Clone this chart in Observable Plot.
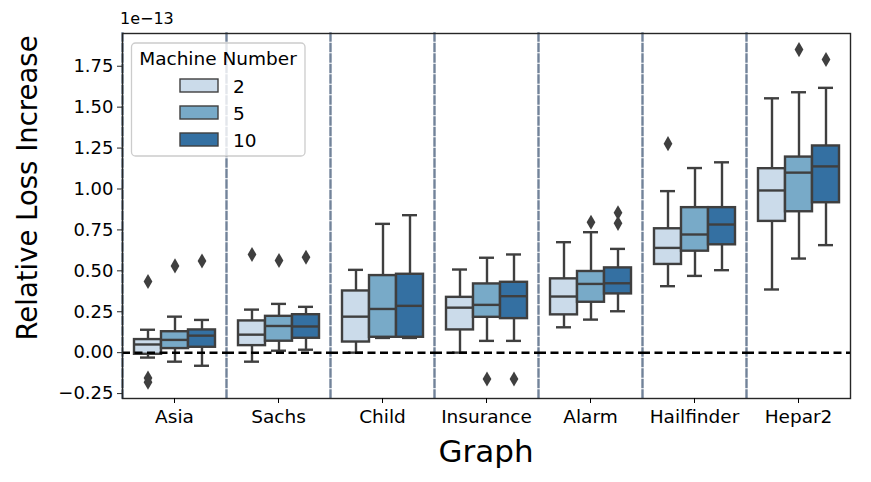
<!DOCTYPE html>
<html>
<head>
<meta charset="utf-8">
<script src="https://cdn.jsdelivr.net/npm/d3@7"></script>
<script src="https://cdn.jsdelivr.net/npm/@observablehq/plot@0.6"></script>
<style>
  html, body { margin: 0; padding: 0; background: white; }
  #chart { width: 871px; height: 482px; }
</style>
</head>
<body>
<div id="chart"></div>
<script>
// ---- data (values in units of 1e-13) ----
const graphs = ["Asia", "Sachs", "Child", "Insurance", "Alarm", "Hailfinder", "Hepar2"];
const machines = ["2", "5", "10"];
const colors = ["#cbdbea", "#78aac8", "#3470a2"];

// per graph, per machine (2, 5, 10)
const whiskerLow  = [-0.03, -0.055, -0.08,  -0.055, 0.012, 0.018,  0.0, 0.09, 0.09,   0.0, 0.072, 0.072,  0.155, 0.202, 0.253,  0.406, 0.469, 0.504,  0.386, 0.575, 0.657];
const q1          = [-0.01, 0.025, 0.033,   0.043, 0.07, 0.088,    0.065, 0.094, 0.094, 0.139, 0.216, 0.208, 0.231, 0.308, 0.359,  0.539, 0.62, 0.659,   0.802, 0.861, 0.916];
const median      = [0.05, 0.078, 0.104,    0.11, 0.163, 0.16,     0.22, 0.267, 0.286,  0.275, 0.292, 0.345, 0.343, 0.42, 0.424,   0.64, 0.722, 0.783,   0.991, 1.10, 1.138];
const q3          = [0.08, 0.128, 0.139,    0.194, 0.222, 0.232,   0.377, 0.471, 0.479, 0.338, 0.42, 0.43,   0.451, 0.496, 0.518,  0.757, 0.886, 0.886,  1.124, 1.195, 1.263];
const whiskerHigh = [0.14, 0.22, 0.20,      0.263, 0.298, 0.28,    0.506, 0.787, 0.84,  0.508, 0.58, 0.60,   0.675, 0.736, 0.634,  0.987, 1.128, 1.163,  1.554, 1.591, 1.618];

const outlierGraph   = ["Asia", "Asia", "Asia", "Asia", "Asia", "Sachs", "Sachs", "Sachs", "Insurance", "Insurance", "Alarm", "Alarm", "Alarm", "Hailfinder", "Hepar2", "Hepar2"];
const outlierMachine = ["2", "2", "2", "5", "10", "2", "5", "10", "5", "10", "5", "10", "10", "2", "5", "10"];
const outlierValue   = [0.435, -0.155, -0.18, 0.53, 0.56, 0.60, 0.563, 0.583, -0.161, -0.161, 0.797, 0.855, 0.79, 1.277, 1.852, 1.791];

const yTicks = [-0.25, 0, 0.25, 0.5, 0.75, 1.0, 1.25, 1.5, 1.75];

// ---- build tables ----
const rows = graphs.flatMap((g, i) => machines.map((m, j) => {
  const k = i * 3 + j;
  return {graph: g, machine: m, lo: whiskerLow[k], q1: q1[k], med: median[k], q3: q3[k], hi: whiskerHigh[k]};
}));
const outliers = outlierValue.map((v, i) => ({graph: outlierGraph[i], machine: outlierMachine[i], value: v}));

const edge = "#3f3f3f";
const font = "DejaVu Sans";
const lw = 2.4;

const chart = Plot.plot({
  width: 871,
  height: 482,
  marginLeft: 121,
  marginRight: 20,
  marginTop: 33,
  marginBottom: 84,
  style: {fontFamily: font, background: "white", color: "black", overflow: "visible"},
  fx: {domain: graphs, padding: 0, label: null},
  x: {domain: machines, paddingInner: 0, paddingOuter: 0.375, axis: null},
  y: {domain: [-0.28, 1.95]},
  color: {domain: machines, range: colors},
  marks: [
    Plot.frame({anchor: "left", stroke: "#72839a", strokeWidth: 2.4, strokeDasharray: "7,3.5"}),
    Plot.ruleX(rows, {fx: "graph", x: "machine", y1: "lo", y2: "hi", stroke: edge, strokeWidth: lw}),
    Plot.barY(rows, {fx: "graph", x: "machine", y1: "q1", y2: "q3", fill: "machine", stroke: edge, strokeWidth: lw}),
    Plot.tickY(rows, {fx: "graph", x: "machine", y: "med", stroke: edge, strokeWidth: lw}),
    Plot.tickY(rows, {fx: "graph", x: "machine", y: "lo", stroke: edge, strokeWidth: lw, insetLeft: 6, insetRight: 6}),
    Plot.tickY(rows, {fx: "graph", x: "machine", y: "hi", stroke: edge, strokeWidth: lw, insetLeft: 6, insetRight: 6}),
    Plot.dot(outliers, {fx: "graph", x: "machine", y: "value", symbol: "diamond", r: 4.6, fill: edge, stroke: "none"}),
    Plot.ruleY([0], {stroke: "black", strokeWidth: 2.5, strokeDasharray: "8,4.5"}),
    Plot.frame({facet: "super", stroke: "#262626", strokeWidth: 1.4}),
    Plot.axisY({ticks: yTicks, tickFormat: d3.format(".2f"), tickSize: 5, tickPadding: 4, fontSize: 18, label: null, stroke: "#262626"}),
    Plot.axisFx({anchor: "bottom", tickSize: 5, tickPadding: 6, fontSize: 18.5, label: null})
  ]
});

document.getElementById("chart").appendChild(chart);

// ---- labels and legend ----
const svg = d3.select(chart);
svg.append("text")
  .attr("x", 120).attr("y", 24).attr("text-anchor", "start")
  .attr("font-family", font).attr("font-size", 16).attr("fill", "black")
  .text("1e\u221213");
svg.append("text")
  .attr("transform", "translate(37,188) rotate(-90)")
  .attr("text-anchor", "middle")
  .attr("font-family", font).attr("font-size", 27.5).attr("fill", "black")
  .text("Relative Loss Increase");
svg.append("text")
  .attr("x", 486).attr("y", 462)
  .attr("text-anchor", "middle")
  .attr("font-family", font).attr("font-size", 31).attr("fill", "black")
  .text("Graph");

const lg = svg.append("g");
lg.append("rect")
  .attr("x", 131.5).attr("y", 43).attr("width", 173.5).attr("height", 113).attr("rx", 4)
  .attr("fill", "white").attr("fill-opacity", 0.8).attr("stroke", "#cccccc").attr("stroke-width", 1.3);
lg.append("text")
  .attr("x", 218).attr("y", 65).attr("text-anchor", "middle")
  .attr("font-family", font).attr("font-size", 18.5).attr("fill", "black")
  .text("Machine Number");
machines.forEach((m, i) => {
  const y0 = 79 + i * 27;
  lg.append("rect").attr("x", 180).attr("y", y0).attr("width", 38).attr("height", 13)
    .attr("fill", colors[i]).attr("stroke", edge).attr("stroke-width", 1.4);
  lg.append("text").attr("x", 233).attr("y", y0 + 13.5).attr("text-anchor", "start")
    .attr("font-family", font).attr("font-size", 18.5).attr("fill", "black").text(m);
});
</script>
</body>
</html>
